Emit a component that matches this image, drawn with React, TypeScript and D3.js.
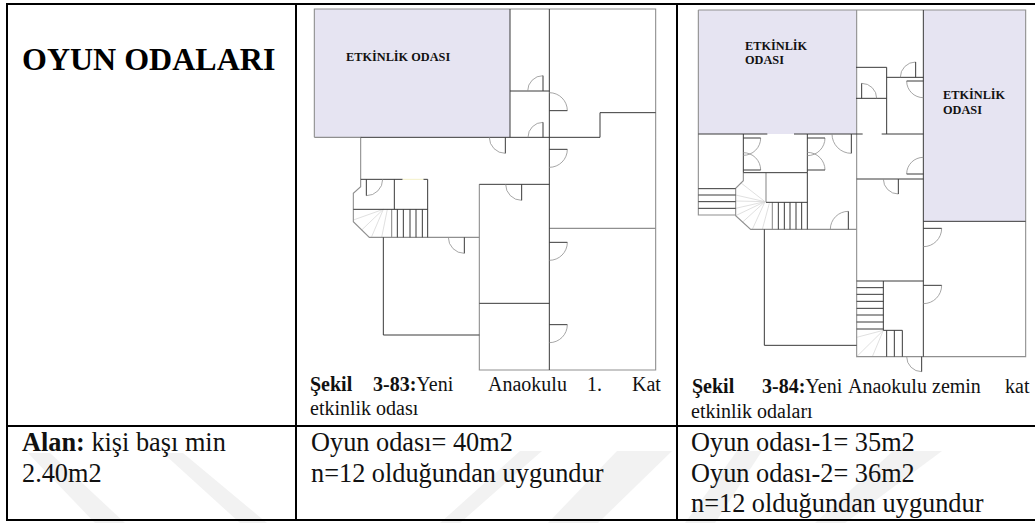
import React from 'react';
import * as d3 from 'd3';

type Pt = [number, number];
// centre, end of the leaf, end of the swing
type Door = [number, number, number, number, number, number];

const W = 1035;
const H = 523;

// plan grid: 3 units per px
const plan1Rooms: Pt[][] = [[[43, 27], [630, 412]]];
const plan1Window: Pt[] = [[308, 538], [370, 538]];
const plan1Dark: Pt[][] = [
  [[630, 27], [630, 412]],
  [[748, 27], [748, 1110]],
  [[630, 273], [748, 273]],
  [[182, 412], [900, 412], [900, 338], [1067, 338]],
  [[182, 538], [308, 538]],
  [[370, 538], [383, 538], [383, 712]],
  [[283, 538], [283, 628]],
  [[160, 628], [383, 628]],
  [[538, 553], [748, 553]],
  [[250, 712], [250, 1005], [538, 1005]],
  [[538, 910], [748, 910]],
];
const plan1Grey: Pt[][] = [
  [[43, 412], [43, 27], [1067, 27], [1067, 1110], [538, 1110], [538, 553]],
  [[43, 412], [182, 412], [182, 538]],
  [[182, 538], [182, 560], [160, 580], [160, 665], [208, 712], [538, 712]],
  [[275, 628], [275, 712]],
  [[748, 685], [1067, 685]],
];
const plan1Treads = [292, 310, 330, 348, 367];
const plan1Fan: Pt[][] = [
  [[250, 628], [160, 660]],
  [[250, 628], [185, 690]],
  [[250, 628], [215, 710]],
  [[262, 628], [245, 712]],
];
const plan1Doors: Door[] = [
  [729, 273, 729, 227, 683, 273],
  [729, 412, 729, 367, 683, 412],
  [748, 332, 802, 332, 748, 282],
  [616, 412, 616, 460, 570, 412],
  [748, 448, 802, 448, 748, 497],
  [199, 538, 199, 587, 245, 538],
  [665, 553, 665, 601, 620, 553],
  [493, 712, 493, 760, 449, 712],
  [748, 727, 802, 727, 748, 776],
  [748, 974, 802, 974, 748, 1024],
];

const plan2Rooms: Pt[][] = [
  [[55, 30], [530, 402]],
  [[730, 30], [1037, 664]],
];
const plan2Dark: Pt[][] = [
  [[730, 30], [730, 1070]],
  [[730, 664], [1037, 664]],
  [[528, 202], [620, 202], [620, 402]],
  [[620, 232], [730, 232]],
  [[528, 295], [620, 295]],
  [[55, 402], [262, 402]],
  [[342, 402], [548, 402]],
  [[605, 402], [730, 402]],
  [[190, 402], [190, 518], [382, 518], [382, 402]],
  [[258, 607], [382, 607]],
  [[382, 518], [382, 688]],
  [[530, 537], [730, 537]],
  [[253, 688], [253, 1036], [530, 1036]],
  [[530, 843], [730, 843]],
  [[610, 843], [610, 991], [667, 991], [667, 1070]],
  [[620, 991], [620, 1070]],
  [[643, 991], [643, 1070]],
];
const plan2Grey: Pt[][] = [
  [[55, 30], [1037, 30], [1037, 1070], [530, 1070], [530, 30]],
  [[55, 30], [55, 645], [167, 645]],
  [[190, 518], [190, 542], [167, 565], [167, 647], [212, 688], [530, 688]],
  [[258, 518], [258, 607]],
  [[277, 607], [277, 688]],
];
const plan2Treads = [295, 313, 330, 348, 365];
const plan2Risers = [566, 585, 605, 625];
const plan2LowerRisers = [863, 883, 904, 925, 945, 966, 987];
const plan2Fan: Pt[][] = [
  [[255, 605], [182, 548]],
  [[255, 605], [167, 585]],
  [[255, 605], [167, 603]],
  [[255, 605], [167, 625]],
  [[255, 605], [167, 647]],
  [[255, 605], [187, 667]],
  [[255, 605], [217, 688]],
  [[268, 610], [247, 688]],
  [[610, 991], [530, 1012]],
  [[610, 991], [530, 1070]],
  [[610, 991], [577, 1070]],
];
const plan2Doors: Door[] = [
  [545, 295, 545, 250, 585, 295],
  [707, 232, 707, 186, 664, 232],
  [730, 243, 680, 243, 730, 293],
  [514, 402, 514, 460, 463, 402],
  [190, 414, 242, 414, 190, 462],
  [190, 510, 242, 510, 190, 462],
  [382, 414, 435, 414, 382, 462],
  [382, 510, 435, 510, 382, 462],
  [505, 688, 505, 634, 458, 688],
  [655, 537, 655, 582, 610, 537],
  [730, 522, 680, 522, 730, 476],
  [730, 685, 785, 685, 730, 733],
  [730, 856, 785, 856, 730, 905],
  [725, 1070, 725, 1115, 682, 1070],
];

// watermark bands, px
const watermarkBands: Pt[][] = [
  [[28, 453], [50, 453], [125, 523], [95, 523]],
  [[163, 453], [183, 453], [267, 523], [240, 523]],
  [[520, 451], [542, 451], [460, 523], [440, 523]],
  [[617, 451], [672, 451], [598, 523], [548, 523]],
  [[737, 451], [762, 451], [715, 523], [685, 523]],
  [[893, 451], [942, 451], [845, 523], [815, 523]],
];

const DARK = '#3a3a3a';
const GREY = '#8f8f8f';
const FAN = '#d8d8d8';
const ROOM = '#e6e4f2';
const SERIF = '"Liberation Serif", serif';

const line = d3.line();

const FloorPlan = ({ left, rooms, dark, grey, fan, doors }: any) => {
  const x = d3.scaleLinear().domain([0, 3]).range([left, left + 1]);
  const y = d3.scaleLinear().domain([0, 3]).range([0, 1]);
  const toPath = (pts: Pt[]) => line(pts.map(([a, b]) => [x(a), y(b)] as Pt)) as string;

  const doorSwing = ([cx, cy, lx, ly, sx, sy]: Door) => {
    const r = Math.hypot(x(lx) - x(cx), y(ly) - y(cy));
    const a0 = Math.atan2(y(ly) - y(cy), x(lx) - x(cx));
    const a1 = Math.atan2(y(sy) - y(cy), x(sx) - x(cx));
    const turn = Math.atan2(Math.sin(a1 - a0), Math.cos(a1 - a0));
    const p = d3.path();
    p.arc(x(cx), y(cy), r, a0, a0 + turn, turn < 0);
    return p.toString();
  };

  return (
    <g fill="none">
      {rooms.map(([a, b]: Pt[], i: number) => (
        <rect key={i} x={x(a[0])} y={y(a[1])} width={x(b[0]) - x(a[0])} height={y(b[1]) - y(a[1])} fill={ROOM} />
      ))}
      {fan.map((d: Pt[], i: number) => (
        <path key={i} d={toPath(d)} stroke={FAN} strokeWidth={0.8} />
      ))}
      {grey.map((d: Pt[], i: number) => (
        <path key={i} d={toPath(d)} stroke={GREY} strokeWidth={1.1} />
      ))}
      {dark.map((d: Pt[], i: number) => (
        <path key={i} d={toPath(d)} stroke={DARK} strokeWidth={1} />
      ))}
      {doors.map((d: Door, i: number) => (
        <g key={i}>
          <path d={doorSwing(d)} stroke={GREY} strokeWidth={0.8} />
          <path d={toPath([[d[0], d[1]], [d[2], d[3]]])} stroke={DARK} strokeWidth={1} />
        </g>
      ))}
    </g>
  );
};

export default function App() {
  const plan1Steps: Pt[][] = plan1Treads.map(t => [[t, 628], [t, 712]]);
  const plan2Steps: Pt[][] = [
    ...plan2Treads.map(t => [[t, 607], [t, 688]] as Pt[]),
    ...plan2Risers.map(r => [[55, r], [167, r]] as Pt[]),
    ...plan2LowerRisers.map(r => [[530, r], [610, r]] as Pt[]),
  ];
  const labelStyle = { fontFamily: SERIF, fontWeight: 700, fontSize: 12.3, fill: '#111' };
  const capStyle = { fontFamily: SERIF, fontSize: 20, fill: '#111' };
  const bodyStyle = { fontFamily: SERIF, fontSize: 26.3, fill: '#111' };

  return (
    <svg width={W} height={H} style={{ position: 'absolute', left: 0, top: 0, background: '#fff' }}>
      {watermarkBands.map((b, i) => (
        <polygon key={i} points={b.join(' ')} fill="#f2f2f2" />
      ))}

      <FloorPlan left={300} rooms={plan1Rooms} dark={plan1Dark} grey={plan1Grey} fan={plan1Fan} doors={plan1Doors} />
      <FloorPlan left={300} rooms={[]} dark={plan1Steps} grey={[]} fan={[]} doors={[]} />
      <line x1={300 + plan1Window[0][0] / 3} x2={300 + plan1Window[1][0] / 3} y1={plan1Window[0][1] / 3} y2={plan1Window[1][1] / 3} stroke="#f4f1c8" />
      <FloorPlan left={680} rooms={plan2Rooms} dark={plan2Dark} grey={plan2Grey} fan={plan2Fan} doors={plan2Doors} />
      <FloorPlan left={680} rooms={[]} dark={plan2Steps} grey={[]} fan={[]} doors={[]} />

      <g stroke="#000" strokeWidth={2}>
        <line x1={7} x2={W} y1={4} y2={4} />
        <line x1={7} x2={W} y1={426} y2={426} />
        <line x1={7} x2={W} y1={520} y2={520} />
        <line x1={7} x2={7} y1={3} y2={521} />
        <line x1={296} x2={296} y1={3} y2={521} />
        <line x1={677} x2={677} y1={3} y2={521} />
      </g>

      <text x={22} y={70} style={{ fontFamily: SERIF, fontWeight: 700, fontSize: 32, fill: '#000' }}>OYUN ODALARI</text>

      <text x={346} y={61} style={labelStyle}>ETKİNLİK ODASI</text>
      <text x={745} y={50} style={labelStyle}>ETKİNLİK</text>
      <text x={745} y={64} style={labelStyle}>ODASI</text>
      <text x={943} y={99} style={labelStyle}>ETKİNLİK</text>
      <text x={943} y={114} style={labelStyle}>ODASI</text>

      <text y={391} style={capStyle}>
        <tspan x={310} fontWeight={700}>Şekil</tspan>
        <tspan x={373} fontWeight={700}>3-83:</tspan>
        <tspan>Yeni</tspan>
        <tspan x={488}>Anaokulu</tspan>
        <tspan x={587}>1.</tspan>
        <tspan x={632}>Kat</tspan>
      </text>
      <text x={310} y={415} style={capStyle}>etkinlik odası</text>
      <text y={393} style={capStyle}>
        <tspan x={692} fontWeight={700}>Şekil</tspan>
        <tspan x={762} fontWeight={700}>3-84:</tspan>
        <tspan>Yeni</tspan>
        <tspan x={848}>Anaokulu</tspan>
        <tspan x={932}>zemin</tspan>
        <tspan x={1005}>kat</tspan>
      </text>
      <text x={691} y={418} style={capStyle}>etkinlik odaları</text>

      <text x={22} y={451} style={bodyStyle}><tspan fontWeight={700}>Alan:</tspan> kişi başı min</text>
      <text x={22} y={482} style={bodyStyle}>2.40m2</text>
      <text x={311} y={451} style={bodyStyle}>Oyun odası= 40m2</text>
      <text x={311} y={482} style={bodyStyle}>n=12 olduğundan uygundur</text>
      <text x={691} y={451} style={bodyStyle}>Oyun odası-1= 35m2</text>
      <text x={691} y={482} style={bodyStyle}>Oyun odası-2= 36m2</text>
      <text x={691} y={512} style={bodyStyle}>n=12 olduğundan uygundur</text>
    </svg>
  );
}
